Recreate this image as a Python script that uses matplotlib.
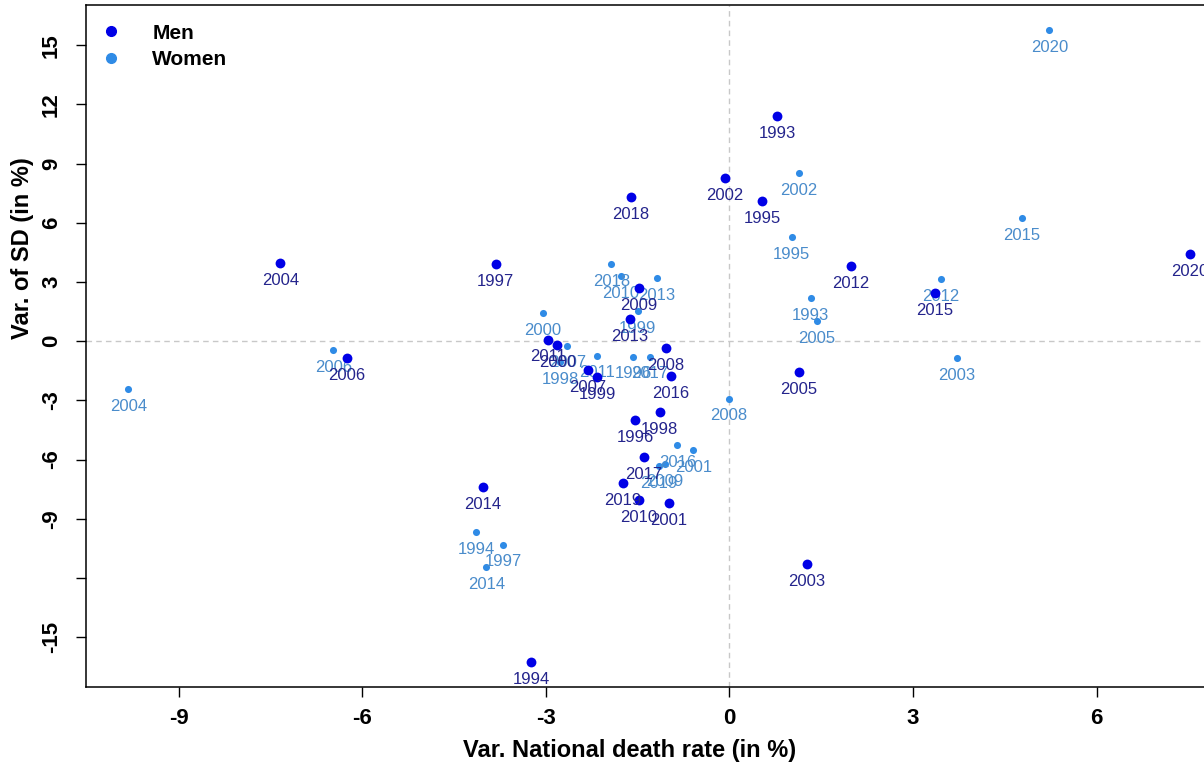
import matplotlib
matplotlib.use("Agg")
import matplotlib.pyplot as plt
from matplotlib.lines import Line2D

plt.rcParams['font.family'] = ['Liberation Sans', 'DejaVu Sans']

years = list(range(1993, 2021))

# men: variation of national death rate (x) and variation of SD (y)
men_x = [0.78, -3.24, 0.54, -1.54, -3.82, -1.14, -2.16, -2.81, -0.99, -0.07,
         1.27, -7.34, 1.13, -6.25, -2.31, -1.04, -1.48, -1.48, -2.97, 1.99,
         -1.63, -4.03, 3.36, -0.96, -1.40, -1.61, -1.74, 7.52]
men_y = [11.43, -16.25, 7.11, -4.01, 3.90, -3.61, -1.81, -0.20, -8.20, 8.28,
         -11.30, 3.95, -1.57, -0.85, -1.45, -0.37, 2.67, -8.06, 0.08, 3.80,
         1.11, -7.40, 2.42, -1.77, -5.86, 7.30, -7.18, 4.41]

# women
women_x = [1.33, -4.14, 1.02, -1.57, -3.70, -2.76, -1.50, -3.05, -0.59, 1.14,
           3.72, -9.82, 1.43, -6.47, -2.65, -0.01, -1.05, -1.77, -2.16, 3.46,
           -1.18, -3.97, 4.78, -0.85, -1.30, -1.93, -1.15, 5.23]
women_y = [2.20, -9.68, 5.29, -0.78, -10.31, -1.06, 1.52, 1.44, -5.52, 8.53,
           -0.86, -2.45, 1.01, -0.46, -0.22, -2.91, -6.25, 3.29, -0.73, 3.14,
           3.18, -11.44, 6.23, -5.26, -0.78, 3.90, -6.32, 15.76]

yticks = [15, 12, 9, 6, 3, 0, -3, -6, -9, -12, -15]
ytick_labels = ['15', '12', '9', '6', '3', '0', '-3', '-6', '-9', '', '-15']
xticks = [-9, -6, -3, 0, 3, 6]

men_col = '#0000E6'
men_txt = '#24248C'
women_col = '#2F8BE6'
women_txt = '#4A8CCB'

W, H = 1204, 770
fig = plt.figure(figsize=(W / 100, H / 100), dpi=100)
# plot box runs off the right edge like the original crop
ax = fig.add_axes([86 / W, 1 - 687 / H, (1232 - 86) / W, (687 - 5) / H])

ax.axvline(0, color='#C8C8C8', ls=(0, (4, 3)), lw=1, zorder=0)
ax.axhline(0, color='#C8C8C8', ls=(0, (4, 3)), lw=1, zorder=0)

ax.scatter(women_x, women_y, s=26, color=women_col, zorder=2, linewidths=0)
for yr, x, y in zip(years, women_x, women_y):
    ax.annotate(str(yr), (x, y), xytext=(0, -12.5), textcoords='offset points',
                ha='center', va='center', fontsize=12, color=women_txt, zorder=3)

ax.scatter(men_x, men_y, s=50, color=men_col, zorder=4, linewidths=0)
for yr, x, y in zip(years, men_x, men_y):
    ax.annotate(str(yr), (x, y), xytext=(0, -12.5), textcoords='offset points',
                ha='center', va='center', fontsize=12, color=men_txt, zorder=5)

xr = max(max(men_x), max(women_x)) - min(min(men_x), min(women_x))
yr_ = max(max(men_y), max(women_y)) - min(min(men_y), min(women_y))
ax.set_xlim(min(min(men_x), min(women_x)) - 0.04 * xr,
            max(max(men_x), max(women_x)) + 0.04 * xr)
ax.set_ylim(min(min(men_y), min(women_y)) - 0.04 * yr_,
            max(max(men_y), max(women_y)) + 0.04 * yr_)

ax.set_xticks(xticks)
ax.set_xticklabels([str(v) for v in xticks], fontsize=16, fontweight='bold')
ax.set_yticks(yticks)
ax.set_yticklabels(ytick_labels, fontsize=16, fontweight='bold',
                   rotation=90, va='center')
ax.tick_params(direction='out', length=7.2, width=1, pad=8)
ax.tick_params(axis='y', pad=10)
for sp in ax.spines.values():
    sp.set_linewidth(1.1)

fig.text(630 / W, 1 - 750 / H, 'Var. National death rate (in %)',
         ha='center', va='center', fontsize=17, fontweight='bold')
fig.text(22 / W, 1 - 248 / H, 'Var. of SD (in %)', rotation=90,
         ha='center', va='center', fontsize=17, fontweight='bold')

handles = [Line2D([], [], ls='', marker='o', ms=7, color=men_col, label='Men'),
           Line2D([], [], ls='', marker='o', ms=7, color=women_col, label='Women')]
leg = ax.legend(handles=handles, loc='upper left', frameon=False,
                bbox_to_anchor=(-2 / 1146, 1 - 4 / 682),
                prop={'size': 15, 'weight': 'bold'}, handlelength=1.2,
                handletextpad=1.37, borderaxespad=0.3, labelspacing=0.35,
                borderpad=0.4)

fig.savefig('out.png', dpi=100)
